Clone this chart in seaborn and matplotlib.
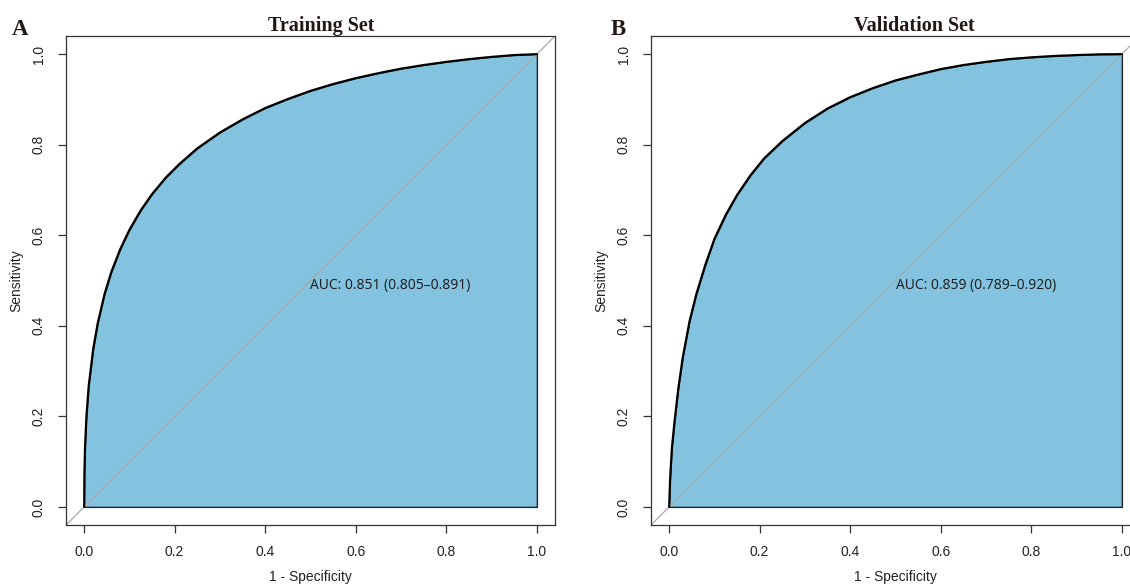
import numpy as np
import pandas as pd
import matplotlib
matplotlib.use("Agg")
import matplotlib.pyplot as plt
import seaborn as sns

# ---------------- data ----------------
panel_letters = ["A", "B"]
panel_titles = ["Training Set", "Validation Set"]
auc_labels = ["AUC: 0.851 (0.805\u20130.891)", "AUC: 0.859 (0.789\u20130.920)"]

train_fpr = [0.0, 0.0005, 0.002, 0.005, 0.01, 0.02, 0.03, 0.045, 0.06, 0.08,
             0.10, 0.125, 0.15, 0.18, 0.21, 0.25, 0.30, 0.35, 0.40, 0.45,
             0.50, 0.55, 0.60, 0.65, 0.70, 0.75, 0.80, 0.85, 0.90, 0.95, 1.0]
train_tpr = [0.0, 0.072, 0.135, 0.200, 0.267, 0.349, 0.406, 0.470, 0.519, 0.570,
             0.612, 0.655, 0.691, 0.727, 0.757, 0.792, 0.827, 0.856, 0.881, 0.901,
             0.919, 0.934, 0.947, 0.958, 0.968, 0.976, 0.983, 0.989, 0.994, 0.998, 1.0]

valid_fpr = [0.0, 0.002, 0.006, 0.012, 0.02, 0.03, 0.045, 0.06, 0.08, 0.10,
             0.125, 0.15, 0.18, 0.21, 0.25, 0.30, 0.35, 0.40, 0.45, 0.50,
             0.55, 0.60, 0.65, 0.70, 0.75, 0.80, 0.85, 0.90, 0.95, 1.0]
valid_tpr = [0.0, 0.06, 0.13, 0.19, 0.26, 0.33, 0.41, 0.47, 0.535, 0.592,
             0.645, 0.689, 0.733, 0.770, 0.808, 0.848, 0.880, 0.905, 0.925, 0.942,
             0.955, 0.967, 0.976, 0.983, 0.989, 0.993, 0.996, 0.998, 0.9996, 1.0]

tick_values = [0.0, 0.2, 0.4, 0.6, 0.8, 1.0]
tick_labels = ["0.0", "0.2", "0.4", "0.6", "0.8", "1.0"]
x_label = "1 - Specificity"
y_label = "Sensitivity"

curves = [(train_fpr, train_tpr), (valid_fpr, valid_tpr)]

# ---------------- style ----------------
sns.set_style("ticks")
plt.rcParams["font.family"] = ["Liberation Sans", "DejaVu Sans"]

FILL = "#83C3DF"
DARK = "#333333"

FW, FH = 1130, 584
fig = plt.figure(figsize=(FW / 100, FH / 100), dpi=100)
fig.patch.set_facecolor("white")

box_w = box_h = 489
box_tops = [36, 36]
box_lefts = [66, 651]
title_x = [321, 914]
letter_x = [12, 611]

for i in range(2):
    l, t = box_lefts[i], box_tops[i]
    ax = fig.add_axes([l / FW, 1 - (t + box_h) / FH, box_w / FW, box_h / FH])
    ax.set_facecolor("white")
    fpr, tpr = curves[i]
    df = pd.DataFrame({"fpr": fpr, "tpr": tpr})

    # filled area under ROC curve
    ax.fill_between(df["fpr"], df["tpr"], 0, facecolor=FILL,
                    edgecolor="#222222", linewidth=1.0, zorder=1)
    # chance diagonal
    ax.axline((0, 0), slope=1, color="#A8A8A8", lw=0.9, zorder=2)
    # ROC curve
    sns.lineplot(data=df, x="fpr", y="tpr", sort=False, estimator=None,
                 color="black", lw=1.5, ax=ax, zorder=3)

    ax.set_xlim(-0.04, 1.04)
    ax.set_ylim(-0.04, 1.04)
    ax.set_xticks(tick_values)
    ax.set_xticklabels(tick_labels)
    ax.set_yticks(tick_values)
    ax.set_yticklabels(tick_labels)
    ax.tick_params(axis="both", direction="out", length=5.5, width=0.9,
                   color=DARK, labelsize=10, labelcolor="#222222", pad=9)
    for lab in ax.get_yticklabels():
        lab.set_rotation(90)
        lab.set_va("center")
    for sp in ax.spines.values():
        sp.set_visible(True)
        sp.set_color(DARK)
        sp.set_linewidth(0.9)

    ax.set_xlabel(x_label, fontsize=10, color="#222222")
    ax.set_ylabel(y_label, fontsize=10, color="#222222")
    ax.xaxis.set_label_coords(0.5, -(570 - 525) / box_h)
    ax.yaxis.set_label_coords(-(66 - 23) / box_w, 0.5)

    ax.text(0.5, 0.488, auc_labels[i], ha="left", va="center",
            fontsize=10, family=["Open Sans", "DejaVu Sans"], color="#1a1a1a",
            zorder=4)

    fig.text(title_x[i] / FW, 1 - 31 / FH, panel_titles[i], ha="center",
             va="baseline", fontsize=14.5, fontweight="bold",
             family=["Liberation Serif", "DejaVu Serif"], color="#231815")
    fig.text(letter_x[i] / FW, 1 - 35 / FH, panel_letters[i], ha="left",
             va="baseline", fontsize=16.5, fontweight="bold",
             family=["Liberation Serif", "DejaVu Serif"], color="#231815")

fig.savefig("out.png", dpi=100, facecolor="white")
